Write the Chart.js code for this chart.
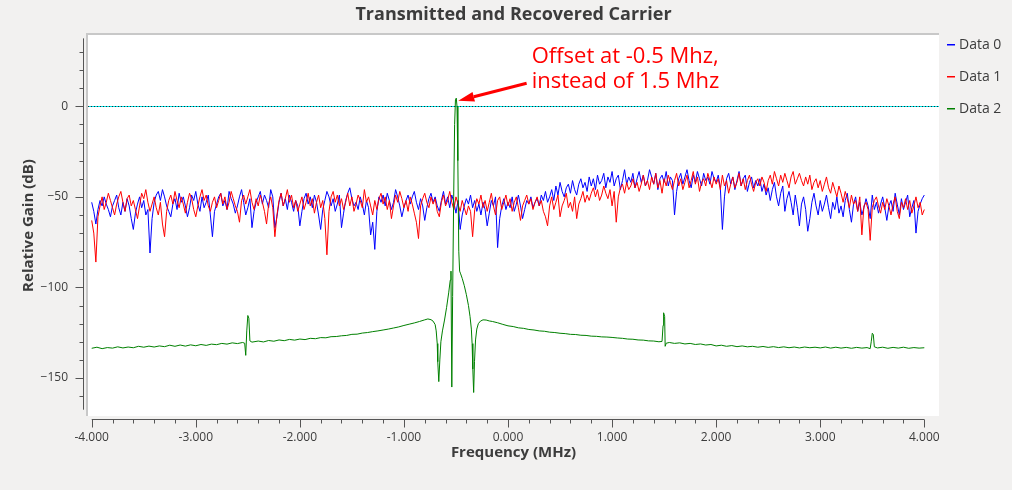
<!DOCTYPE html>
<html>
<head>
<meta charset="utf-8">
<script src="https://cdn.jsdelivr.net/npm/chart.js@4.4.0/dist/chart.umd.min.js"></script>
<style>
  html, body { margin: 0; padding: 0; background: #f2f1f0; }
</style>
</head>
<body>
<canvas id="carrierChart" width="1012" height="490"></canvas>
<script>
// ----------------- Data -----------------
// Data 0 / Data 1: one value per FFT bin, bins start at -4 MHz every 0.02 MHz
const binStart = -4.0;
const binStep = 0.02;

const data0Gain = [
    -53, -58, -65, -57, -52, -55, -50, -54, -57, -61, -55, -52, -49, -56, -60, -53, -58, -51, -55, -62,
    -68, -59, -54, -50, -56, -52, -60, -57, -81, -62, -53, -49, -47, -52, -46, -50, -55, -58, -61, -54,
    -51, -57, -48, -53, -50, -55, -61, -56, -49, -52, -47, -54, -58, -50, -56, -53, -49, -60, -72, -58,
    -54, -50, -48, -55, -52, -57, -47, -51, -54, -59, -55, -50, -46, -53, -60, -56, -51, -67, -58, -53,
    -50, -47, -54, -49, -52, -56, -46, -50, -67, -61, -53, -48, -55, -51, -57, -49, -53, -58, -52, -55,
    -66, -58, -51, -48, -54, -50, -56, -49, -53, -60, -68, -57, -52, -47, -50, -55, -51, -58, -54, -49,
    -67, -59, -52, -48, -45, -51, -55, -53, -57, -50, -54, -60, -52, -56, -71, -64, -79, -58, -50, -53,
    -49, -55, -48, -52, -57, -53, -46, -50, -55, -61, -56, -52, -49, -54, -50, -47, -53, -57, -51, -55,
    -63, -56, -51, -48, -53, -50, -55, -58, -52, -47, -54, -50, -56, -49, -53, -59, -52, -68, -60, -55,
    -51, -54, -49, -56, -52, -58, -54, -60, -53, -57, -66, -59, -52, -55, -50, -78, -62, -55, -51, -57,
    -53, -56, -50, -58, -54, -49, -55, -62, -57, -52, -54, -50, -56, -53, -51, -55, -49, -52, -47, -53,
    -50, -46, -52, -44, -49, -42, -47, -50, -45, -43, -48, -41, -46, -49, -43, -40, -45, -42, -47, -39,
    -44, -40, -46, -38, -43, -41, -37, -45, -39, -42, -36, -44, -40, -38, -46, -41, -35, -43, -39, -42,
    -37, -45, -40, -36, -42, -38, -44, -41, -35, -39, -43, -37, -46, -40, -38, -42, -36, -44, -39, -41,
    -60, -47, -40, -37, -43, -39, -35, -41, -45, -38, -42, -36, -40, -44, -37, -41, -39, -43, -36, -40,
    -42, -38, -45, -68, -50, -40, -37, -43, -39, -46, -41, -36, -44, -40, -38, -47, -42, -39, -45, -41,
    -44, -40, -47, -43, -49, -45, -52, -46, -42, -50, -55, -48, -44, -58, -51, -47, -53, -60, -49, -56,
    -66, -54, -50, -57, -69, -62, -53, -48, -55, -60, -52, -58, -54, -49, -56, -62, -53, -57, -50, -59,
    -55, -61, -52, -48, -57, -64, -54, -50, -58, -53, -60, -56, -51, -55, -62, -49, -57, -53, -59, -54,
    -50, -56, -63, -55, -52, -58, -48, -54, -60, -51, -57, -53, -49, -61, -56, -52, -70, -58, -54, -51,
    -49
];

const data1Gain = [
    -63, -70, -86, -61, -55, -50, -57, -53, -48, -52, -56, -60, -54, -50, -47, -53, -58, -51, -49, -55,
    -52, -57, -62, -55, -48, -51, -46, -53, -58, -54, -50, -56, -60, -53, -65, -72, -58, -52, -49, -54,
    -47, -52, -56, -50, -54, -59, -53, -48, -51, -57, -61, -55, -50, -46, -52, -49, -55, -58, -53, -50,
    -56, -52, -48, -54, -50, -57, -53, -47, -51, -55, -58, -64, -52, -49, -54, -50, -46, -53, -57, -51,
    -55, -49, -53, -58, -65, -54, -50, -56, -72, -60, -52, -48, -55, -51, -46, -53, -49, -56, -52, -58,
    -54, -50, -57, -53, -48, -55, -51, -59, -53, -49, -56, -52, -62, -82, -58, -50, -47, -53, -49, -55,
    -51, -57, -53, -48, -55, -50, -58, -54, -49, -52, -56, -46, -53, -50, -55, -60, -52, -57, -51, -48,
    -54, -50, -57, -52, -62, -55, -49, -53, -47, -51, -56, -52, -58, -50, -54, -59, -64, -73, -55, -51,
    -48, -53, -56, -50, -54, -51, -58, -61, -53, -49, -55, -52, -47, -53, -57, -50, -54, -58, -52, -56,
    -60, -55, -58, -72, -57, -51, -54, -49, -56, -52, -58, -53, -48, -55, -60, -52, -50, -57, -53, -49,
    -55, -51, -58, -53, -50, -56, -63, -55, -52, -49, -54, -51, -57, -53, -50, -55, -52, -58, -61, -66,
    -55, -50, -57, -53, -49, -61, -55, -52, -48, -56, -53, -58, -50, -62, -54, -51, -47, -53, -49, -52,
    -48, -45, -50, -46, -52, -49, -44, -48, -51, -46, -55, -47, -64, -50, -45, -43, -48, -42, -46, -44,
    -40, -45, -42, -47, -43, -38, -44, -41, -46, -39, -43, -37, -45, -41, -48, -40, -44, -38, -42, -46,
    -41, -37, -44, -40, -46, -42, -38, -45, -41, -36, -43, -39, -47, -42, -40, -44, -37, -41, -45, -39,
    -43, -40, -46, -38, -44, -41, -48, -43, -39, -45, -42, -37, -44, -40, -46, -41, -38, -43, -47, -42,
    -40, -44, -39, -42, -47, -41, -38, -43, -36, -40, -44, -38, -42, -37, -41, -45, -39, -36, -43, -40,
    -37, -41, -44, -39, -43, -38, -46, -42, -40, -45, -41, -47, -43, -39, -45, -48, -42, -46, -50, -44,
    -48, -53, -47, -51, -56, -49, -54, -52, -58, -50, -71, -55, -53, -57, -74, -56, -52, -50, -55, -59,
    -53, -57, -51, -55, -60, -54, -50, -58, -62, -53, -56, -51, -57, -52, -59, -55, -50, -56, -53, -60,
    -57
];

// Data 2: recovered carrier, sampled more densely round the features
const data2Freq = [
    -4.00, -3.95, -3.90, -3.85, -3.80, -3.75, -3.70, -3.65, -3.60, -3.55,
    -3.50, -3.45, -3.40, -3.35, -3.30, -3.25, -3.20, -3.15, -3.10, -3.05,
    -3.00, -2.95, -2.90, -2.85, -2.80, -2.75, -2.70, -2.65, -2.60, -2.55,
    -2.53, -2.52, -2.51, -2.50, -2.49, -2.48, -2.46, -2.40, -2.35, -2.30,
    -2.25, -2.20, -2.15, -2.10, -2.05, -2.00, -1.95, -1.90, -1.85, -1.80,
    -1.75, -1.70, -1.65, -1.60, -1.55, -1.50, -1.45, -1.40, -1.35, -1.30,
    -1.25, -1.20, -1.15, -1.10, -1.05, -1.00, -0.95, -0.90, -0.85, -0.80,
    -0.77, -0.74, -0.72, -0.70, -0.69, -0.68, -0.675, -0.665, -0.655, -0.645,
    -0.63, -0.61, -0.59, -0.57, -0.555, -0.548, -0.54, -0.532, -0.522, -0.513,
    -0.505, -0.497, -0.49, -0.482, -0.473, -0.465, -0.455, -0.44, -0.42, -0.40,
    -0.38, -0.365, -0.352, -0.345, -0.338, -0.33, -0.322, -0.312, -0.30, -0.285,
    -0.265, -0.24, -0.21, -0.18, -0.15, -0.10, -0.05, 0.00, 0.05, 0.10,
    0.15, 0.20, 0.25, 0.30, 0.35, 0.40, 0.45, 0.50, 0.55, 0.60,
    0.65, 0.70, 0.75, 0.80, 0.85, 0.90, 0.95, 1.00, 1.05, 1.10,
    1.15, 1.20, 1.25, 1.30, 1.35, 1.40, 1.45, 1.48, 1.49, 1.495,
    1.505, 1.51, 1.52, 1.55, 1.60, 1.65, 1.70, 1.75, 1.80, 1.85,
    1.90, 1.95, 2.00, 2.05, 2.10, 2.15, 2.20, 2.25, 2.30, 2.35,
    2.40, 2.45, 2.50, 2.55, 2.60, 2.65, 2.70, 2.75, 2.80, 2.85,
    2.90, 2.95, 3.00, 3.05, 3.10, 3.15, 3.20, 3.25, 3.30, 3.35,
    3.40, 3.45, 3.48, 3.49, 3.50, 3.51, 3.52, 3.55, 3.60, 3.65,
    3.70, 3.75, 3.80, 3.85, 3.90, 3.95, 4.00
];

const data2Gain = [
    -133.6, -133.0, -133.8, -133.2, -133.5, -132.8, -133.4, -132.9, -133.3, -132.5,
    -133.0, -132.4, -132.9, -132.3, -132.7, -131.9, -132.5, -131.8, -132.4, -131.7,
    -132.2, -131.5, -132.0, -131.3, -131.6, -130.9, -131.3, -130.6, -131.0, -130.4,
    -130.8, -137.5, -124.0, -115.5, -117.0, -129.5, -130.2, -129.6, -130.1, -129.3,
    -129.7, -129.0, -129.4, -128.7, -129.1, -128.5, -128.8, -128.1, -128.3, -127.7,
    -127.8, -127.2, -127.1, -126.7, -126.5, -125.9, -125.8, -125.2, -124.9, -124.4,
    -124.0, -123.5, -123.0, -122.4, -121.8, -121.0, -120.3, -119.6, -118.8, -117.9,
    -117.4, -117.8, -118.6, -120.5, -124.0, -131.0, -141.0, -152.0, -140.0, -130.0,
    -124.0, -118.0, -111.0, -103.0, -96.0, -91.0, -155.0, -105.0, -50.0, -10.0,
    3.5, 4.5, 0.0, -30.0, -80.0, -91.0, -92.5, -95.0, -99.0, -104.0,
    -110.0, -116.0, -123.0, -131.0, -145.0, -158.0, -141.0, -129.0, -123.0, -120.0,
    -118.6, -117.9, -118.0, -118.5, -118.8, -119.5, -120.4, -121.2, -121.6, -122.3,
    -122.6, -123.2, -123.5, -124.0, -124.2, -124.7, -124.9, -125.3, -125.5, -125.9,
    -126.0, -126.4, -126.5, -126.9, -127.0, -127.3, -127.4, -127.6, -127.9, -128.1,
    -128.5, -128.6, -129.0, -129.1, -129.5, -129.6, -130.0, -129.8, -121.0, -114.0,
    -116.0, -132.5, -130.8, -130.4, -130.9, -130.6, -131.2, -130.9, -131.5, -131.2,
    -131.8, -131.5, -132.3, -131.9, -132.5, -132.1, -132.7, -132.3, -132.8, -132.5,
    -133.0, -132.6, -133.1, -132.7, -133.2, -132.8, -133.3, -132.9, -133.4, -132.9,
    -133.3, -133.0, -133.4, -132.9, -133.5, -133.0, -133.5, -133.1, -133.6, -133.1,
    -133.5, -133.2, -133.8, -130.0, -125.3, -126.0, -132.8, -133.4, -133.0, -133.6,
    -133.1, -133.5, -133.0, -133.6, -133.2, -133.5, -133.3
];

const seriesLabels = ['Data 0', 'Data 1', 'Data 2'];
const seriesColors = ['#0000ff', '#ff0000', '#008000'];

const xTickLabels = [-4, -3, -2, -1, 0, 1, 2, 3, 4];
const yTickLabels = [-150, -100, -50, 0];
const markerLevel = 0;
const noteLines = ['Offset at -0.5 Mhz,', 'instead of 1.5 Mhz'];

// ----------------- Styling -----------------
const FONT = '"Open Sans", "DejaVu Sans", sans-serif';
const TEXT = '#3c3c3c';
const AXIS = '#555555';
const BG = '#f2f1f0';

const binPoints = gains => gains.map((g, i) => ({ x: binStart + i * binStep, y: g }));
const data2Points = data2Freq.map((f, i) => ({ x: f, y: data2Gain[i] }));

// ----------------- Plugins -----------------
const framePlugin = {
    id: 'frame',
    beforeDraw(chart) {
        const { ctx, chartArea: a } = chart;
        ctx.save();
        ctx.fillStyle = BG;
        ctx.fillRect(0, 0, chart.width, chart.height);
        ctx.fillStyle = '#ffffff';
        ctx.fillRect(a.left, a.top, a.right - a.left, a.bottom - a.top);
        ctx.fillStyle = '#c8c8c8';
        ctx.fillRect(a.left - 2, a.top - 2, a.right - a.left + 2, 2);
        ctx.fillRect(a.left - 2, a.top - 2, 2, a.bottom - a.top + 2);
        ctx.restore();
    },
    beforeDatasetsDraw(chart) {
        // dotted marker line at the 0 dB level
        const { ctx, chartArea: a, scales } = chart;
        const y = Math.round(scales.y.getPixelForValue(markerLevel)) + 0.5;
        ctx.save();
        ctx.lineWidth = 1;
        ctx.strokeStyle = '#00e5e5';
        ctx.beginPath();
        ctx.moveTo(a.left, y);
        ctx.lineTo(a.right, y);
        ctx.stroke();
        ctx.setLineDash([1, 2]);
        ctx.strokeStyle = '#1c2a3a';
        ctx.beginPath();
        ctx.moveTo(a.left, y);
        ctx.lineTo(a.right, y);
        ctx.stroke();
        ctx.restore();
    }
};

const axesPlugin = {
    id: 'axes',
    afterDraw(chart) {
        const { ctx, chartArea: a, scales } = chart;
        const xs = scales.x, ys = scales.y;
        const axisX = a.left - 4.5;
        const axisY = a.bottom + 3.5;
        ctx.save();
        ctx.strokeStyle = AXIS;
        ctx.lineWidth = 1;
        ctx.beginPath();
        // y axis
        ctx.moveTo(axisX, ys.getPixelForValue(37.5));
        ctx.lineTo(axisX, ys.getPixelForValue(-167.5));
        for (let k = -16; k <= 3; k++) {
            const py = Math.round(ys.getPixelForValue(k * 10)) + 0.5;
            const len = (k % 5 === 0) ? 8 : 4;
            ctx.moveTo(axisX, py);
            ctx.lineTo(axisX - len, py);
        }
        // x axis
        ctx.moveTo(xs.getPixelForValue(-4), axisY);
        ctx.lineTo(xs.getPixelForValue(4), axisY);
        for (let k = -20; k <= 20; k++) {
            const px = Math.round(xs.getPixelForValue(k * 0.2)) + 0.5;
            const len = (k % 5 === 0) ? 8 : 4;
            ctx.moveTo(px, axisY);
            ctx.lineTo(px, axisY + len);
        }
        ctx.stroke();

        // legend
        ctx.font = '14px ' + FONT;
        ctx.textBaseline = 'middle';
        ctx.textAlign = 'left';
        chart.data.datasets.forEach((ds, i) => {
            const y = a.top + 10 + 32 * i;
            ctx.fillStyle = ds.borderColor;
            ctx.fillRect(a.right + 8, Math.round(y) - 1, 8, 1.5);
            ctx.fillStyle = TEXT;
            ctx.fillText(ds.label, a.right + 20, y);
        });

        // annotation
        const tipX = xs.getPixelForValue(-0.478), tipY = ys.getPixelForValue(3.1);
        const tailX = xs.getPixelForValue(0.179), tailY = ys.getPixelForValue(12.7);
        const ang = Math.atan2(tipY - tailY, tipX - tailX);
        const head = 16, half = 5;
        const baseX = tipX - head * Math.cos(ang), baseY = tipY - head * Math.sin(ang);
        ctx.strokeStyle = '#ff0000';
        ctx.fillStyle = '#ff0000';
        ctx.lineWidth = 3;
        ctx.beginPath();
        ctx.moveTo(tailX, tailY);
        ctx.lineTo(baseX, baseY);
        ctx.stroke();
        ctx.beginPath();
        ctx.moveTo(tipX, tipY);
        ctx.lineTo(baseX + half * Math.sin(ang), baseY - half * Math.cos(ang));
        ctx.lineTo(baseX - half * Math.sin(ang), baseY + half * Math.cos(ang));
        ctx.closePath();
        ctx.fill();

        ctx.font = '22px ' + FONT;
        const noteX = xs.getPixelForValue(0.227);
        ctx.fillText(noteLines[0], noteX, ys.getPixelForValue(27.2));
        ctx.fillText(noteLines[1], noteX, ys.getPixelForValue(13.4));
        ctx.restore();
    }
};

// ----------------- Chart -----------------
const ctx = document.getElementById('carrierChart').getContext('2d');
new Chart(ctx, {
    type: 'line',
    data: {
        datasets: [
            { label: seriesLabels[0], data: binPoints(data0Gain), borderColor: seriesColors[0], order: 2 },
            { label: seriesLabels[1], data: binPoints(data1Gain), borderColor: seriesColors[1], order: 1 },
            { label: seriesLabels[2], data: data2Points, borderColor: seriesColors[2], order: 0 }
        ]
    },
    options: {
        responsive: false,
        animation: false,
        events: [],
        layout: { padding: { left: 0, right: 73, top: 0, bottom: 0 } },
        elements: {
            line: { borderWidth: 1, tension: 0, fill: false },
            point: { radius: 0 }
        },
        plugins: {
            legend: { display: false },
            tooltip: { enabled: false },
            title: {
                display: true,
                fullSize: false,
                text: 'Transmitted and Recovered Carrier',
                color: TEXT,
                font: { family: FONT, size: 18, weight: 'bold' },
                padding: { top: 4.5, bottom: 8.9 }
            }
        },
        scales: {
            x: {
                type: 'linear',
                min: -4.0356,
                max: 4.1412,
                afterBuildTicks: s => { s.ticks = xTickLabels.map(v => ({ value: v })); },
                afterFit: s => { s.height = 74; },
                ticks: {
                    callback: v => v.toFixed(3),
                    color: TEXT,
                    font: { family: FONT, size: 12 },
                    padding: 14,
                    maxRotation: 0,
                    autoSkip: false
                },
                grid: { drawOnChartArea: false, drawTicks: false },
                border: { display: false },
                title: {
                    display: true,
                    text: 'Frequency (MHz)',
                    color: TEXT,
                    font: { family: FONT, size: 15, weight: 'bold' },
                    padding: { top: 0, bottom: 28 }
                }
            },
            y: {
                type: 'linear',
                min: -170.98,
                max: 39.36,
                afterBuildTicks: s => { s.ticks = yTickLabels.map(v => ({ value: v })); },
                afterFit: s => { s.width = 88; },
                ticks: {
                    callback: v => (v < 0 ? '\u2212' + Math.abs(v) : String(v)),
                    color: TEXT,
                    font: { family: FONT, size: 12 },
                    padding: 20,
                    autoSkip: false
                },
                grid: { drawOnChartArea: false, drawTicks: false },
                border: { display: false },
                title: {
                    display: true,
                    text: 'Relative Gain (dB)',
                    color: TEXT,
                    font: { family: FONT, size: 15, weight: 'bold' },
                    padding: { top: 20, bottom: 0 }
                }
            }
        }
    },
    plugins: [framePlugin, axesPlugin]
});
</script>
</body>
</html>
